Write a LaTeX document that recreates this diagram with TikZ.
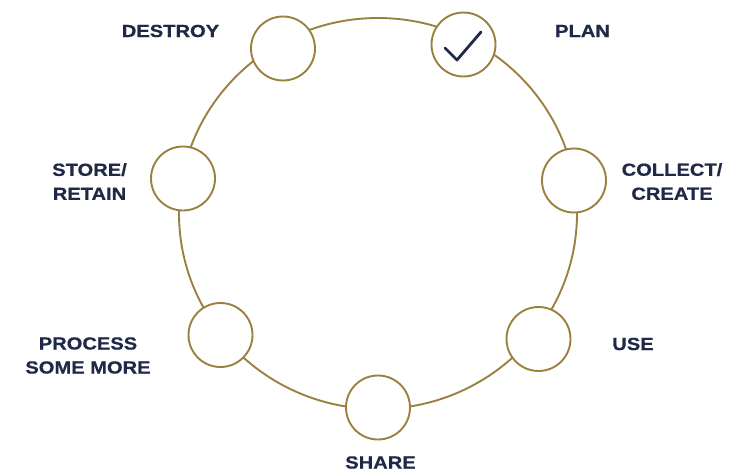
\documentclass[tikz,border=0pt]{standalone}
\usepackage{fontspec}
\newfontfamily\labelfont{Liberation Sans}[FakeStretch=1.15,BoldFeatures={FakeBold=0.6}]
\definecolor{gold}{RGB}{154,129,64}
\definecolor{navy}{RGB}{31,40,70}
\begin{document}
\begin{tikzpicture}[x=1pt,y=-1pt,
  ring/.style={draw=gold,line width=1.9pt},
  stage/.style={circle,draw=gold,fill=white,line width=1.9pt,minimum size=64pt,inner sep=0pt},
  lbl/.style={text=navy,inner sep=0pt,align=center,font=\labelfont\bfseries\fontsize{17.5}{24}\selectfont},
  check/.style={draw=navy,line width=2.8pt,line cap=round,line join=round}]
\fill[white] (0,0) rectangle (734,471);
\useasboundingbox (0,0) rectangle (734,471);
\draw[ring] (378,213.5) ellipse [x radius=199pt, y radius=195.5pt];
\node[stage] (destroy) at (283,48.5) {};
\node[stage] (plan) at (463.5,44.5) {};
\node[stage] (collect) at (574,180.5) {};
\node[stage] (use) at (538.5,339) {};
\node[stage] (share) at (378,407.5) {};
\node[stage] (process) at (220.5,335) {};
\node[stage] (store) at (183,178.5) {};
\coordinate (c1) at ([shift={(-18.5,3.5)}]plan.center);
\coordinate (c2) at ([shift={(-6.5,15.5)}]plan.center);
\coordinate (c3) at ([shift={(17.5,-12.5)}]plan.center);
\draw[check] (c1) -- (c2) -- (c3);
\node[lbl] (tdestroy) at (170.5,31) {DESTROY};
\node[lbl] (tplan) at (582.5,31) {PLAN};
\node[lbl] (tstore) at (89.5,181.5) {STORE/\\RETAIN};
\node[lbl] (tcollect) at (672,181.5) {COLLECT/\\CREATE};
\node[lbl] (tprocess) at (88,355.5) {PROCESS\\SOME MORE};
\node[lbl] (tuse) at (633,344) {USE};
\node[lbl] (tshare) at (380.5,462.5) {SHARE};
\end{tikzpicture}
\end{document}
